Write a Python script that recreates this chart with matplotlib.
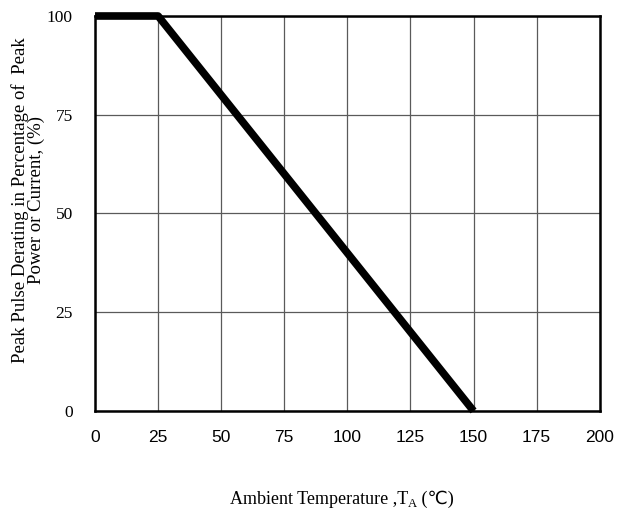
import matplotlib.pyplot as plt
from matplotlib.transforms import offset_copy

temp = [0, 25, 150]
derating = [100, 100, 0]
xticks = [0, 25, 50, 75, 100, 125, 150, 175, 200]
yticks = [0, 25, 50, 75, 100]

fig = plt.figure(figsize=(6.17, 5.16), dpi=100)
ax = fig.add_axes([0.154, 0.2035, 0.818, 0.7655])
ax.set_xlim(0, 200); ax.set_ylim(0, 100)
ax.set_xticks(xticks); ax.set_yticks(yticks)
ax.grid(True, color="#5a5a5a", lw=0.9)
ax.set_axisbelow(True)
for s in ax.spines.values():
    s.set_linewidth(1.8); s.set_color("black")
ax.tick_params(axis="x", length=0, pad=14)
ax.tick_params(axis="y", length=0, pad=16)
for t in ax.get_xticklabels():
    t.set_fontfamily("Liberation Sans"); t.set_fontsize(12.5)
for t in ax.get_yticklabels():
    t.set_fontfamily("Liberation Serif"); t.set_fontsize(12.5)
ax.plot(temp, derating, color="black", lw=5.5, solid_capstyle="butt", clip_on=False, zorder=5)

# x label built from pieces so the subscript and the ℃ sign both render
fs = 13
fam = ["Liberation Serif", "DejaVu Sans"]
x0, y0 = 0.372, 0.024
t1 = fig.text(x0, y0, "Ambient Temperature ,T", ha="left", va="baseline", family=fam, fontsize=fs)
fig.canvas.draw()
r = fig.canvas.get_renderer()
w1 = t1.get_window_extent(r).width
t2 = fig.text(x0, y0, "A", ha="left", va="baseline", family=fam, fontsize=fs * 0.7,
              transform=offset_copy(fig.transFigure, fig=fig, x=w1, y=-3, units="dots"))
w2 = t2.get_window_extent(r).width
fig.text(x0, y0, " (℃)", ha="left", va="baseline", family=fam, fontsize=fs,
         transform=offset_copy(fig.transFigure, fig=fig, x=w1 + w2, y=0, units="dots"))

fig.text(0.045, 0.612, "Peak Pulse Derating in Percentage of  Peak\nPower or Current, (%)",
         ha="center", va="center", rotation=90, family="Liberation Serif", fontsize=13.5,
         linespacing=0.9)
fig.savefig("out.png", dpi=100)
